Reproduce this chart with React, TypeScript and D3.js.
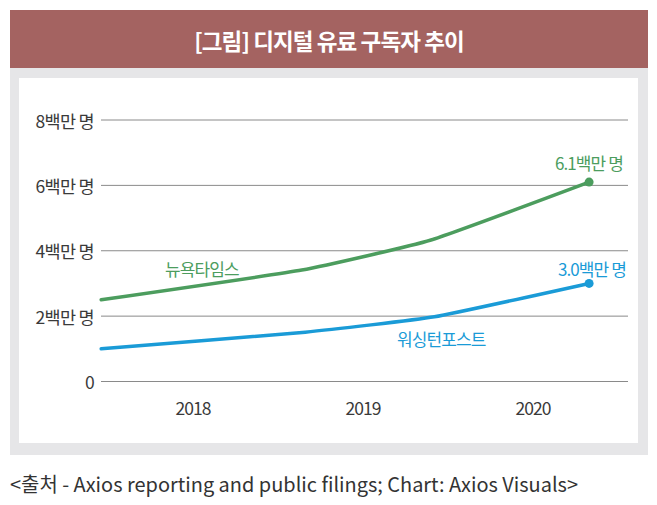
import React from "react";
import * as d3 from "d3";

const yTicks = [0, 2, 4, 6, 8];
const yTickLabels = ["0", "2백만 명", "4백만 명", "6백만 명", "8백만 명"];
const years = [2018, 2019, 2020];

const nytTimes = [2017.46, 2018.64, 2019.4, 2020.33];
const nytValues = [2.5, 3.41, 4.33, 6.1];
const wapoTimes = [2017.46, 2018.66, 2019.42, 2020.33];
const wapoValues = [1.0, 1.51, 1.98, 3.0];

const TITLE = "[그림] 디지털 유료 구독자 추이";
const SOURCE = "<출처 - Axios reporting and public filings; Chart: Axios Visuals>";
const NYT_NAME = "뉴욕타임스";
const WAPO_NAME = "워싱턴포스트";
const NYT_END = "6.1백만 명";
const WAPO_END = "3.0백만 명";

const GREEN = "#4c9d5e";
const BLUE = "#1a9bd7";
const FONT = "'Noto Sans CJK KR', 'Noto Sans', sans-serif";

export default function App() {
  const x = d3.scaleLinear().domain([2018, 2020]).range([193, 533]);
  const y = d3.scaleLinear().domain([0, 8]).range([381.5, 120]);
  const line = d3
    .line<[number, number]>()
    .x((d) => x(d[0]))
    .y((d) => y(d[1]))
    .curve(d3.curveCardinal.tension(0.6));
  const nyt: [number, number][] = nytTimes.map((t, i) => [t, nytValues[i]]);
  const wapo: [number, number][] = wapoTimes.map((t, i) => [t, wapoValues[i]]);
  const nytLast = nyt[nyt.length - 1];
  const wapoLast = wapo[wapo.length - 1];

  return (
    <svg
      width={657}
      height={505}
      style={{ position: "absolute", left: 0, top: 0, background: "#fff" }}
      fontFamily={FONT}
    >
      <rect x={10} y={10} width={638} height={58} fill="#a46361" />
      <text
        x={329}
        y={40}
        fill="#fff"
        fontSize={22.5}
        fontWeight={700}
        textAnchor="middle"
        dominantBaseline="central"
        letterSpacing={-0.9}
      >
        {TITLE}
      </text>
      <rect x={10} y={68} width={638} height={387} fill="#e6e6e8" />
      <rect x={19} y={78} width={619} height={365} fill="#fff" />

      {yTicks.map((t, i) => (
        <g key={t}>
          <line x1={101} x2={628} y1={y(t)} y2={y(t)} stroke="#8a8a8a" strokeWidth={1} />
          <text
            x={94}
            y={y(t)}
            fontSize={17.5}
            fill="#3a3a3a"
            textAnchor="end"
            dominantBaseline="central"
            letterSpacing={-0.7}
          >
            {yTickLabels[i]}
          </text>
        </g>
      ))}
      {years.map((yr) => (
        <text
          key={yr}
          x={x(yr)}
          y={407}
          fontSize={17.5}
          fill="#3a3a3a"
          textAnchor="middle"
          dominantBaseline="central"
          letterSpacing={-1}
        >
          {yr}
        </text>
      ))}

      <path d={line(nyt) || ""} fill="none" stroke={GREEN} strokeWidth={3.5} strokeLinecap="round" />
      <path d={line(wapo) || ""} fill="none" stroke={BLUE} strokeWidth={3.5} strokeLinecap="round" />
      <circle cx={x(nytLast[0])} cy={y(nytLast[1])} r={4.5} fill={GREEN} />
      <circle cx={x(wapoLast[0])} cy={y(wapoLast[1])} r={4.5} fill={BLUE} />

      <text x={165} y={268} fontSize={17} fill={GREEN} dominantBaseline="central" letterSpacing={-0.9}>
        {NYT_NAME}
      </text>
      <text x={397} y={338} fontSize={17} fill={BLUE} dominantBaseline="central" letterSpacing={-0.9}>
        {WAPO_NAME}
      </text>
      <text x={623} y={162} fontSize={17} fill={GREEN} textAnchor="end" dominantBaseline="central" letterSpacing={-0.9}>
        {NYT_END}
      </text>
      <text x={626} y={268} fontSize={17} fill={BLUE} textAnchor="end" dominantBaseline="central" letterSpacing={-0.9}>
        {WAPO_END}
      </text>

      <text
        x={10}
        y={483}
        fontSize={20}
        fill="#333"
        dominantBaseline="central"
        textLength={568}
        lengthAdjust="spacingAndGlyphs"
      >
        {SOURCE}
      </text>
    </svg>
  );
}
